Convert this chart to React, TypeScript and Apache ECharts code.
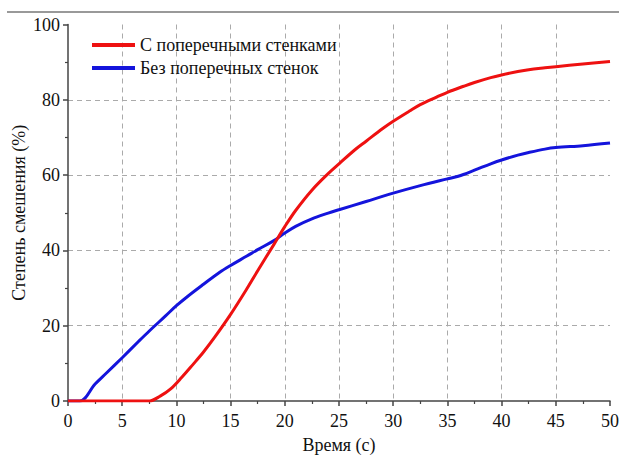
import React, { useEffect, useRef } from "react";
import * as echarts from "echarts";

const seriesNames = ["С поперечными стенками", "Без поперечных стенок"];
const xAxisName = "Время (с)";
const yAxisName = "Степень смешения (%)";
const xTicks = [0, 5, 10, 15, 20, 25, 30, 35, 40, 45, 50];
const yTicks = [0, 20, 40, 60, 80, 100];

const redTime = [0, 2.5, 5, 7.5, 8.5, 9.5, 10.5, 11.5, 12.5, 13.5, 15, 16.5, 17.5, 19, 20, 21, 22.5, 24, 25, 26.5, 27.5, 29, 30, 31.5, 32.5, 34, 35, 36.5, 37.5, 39, 40, 41.5, 42.5, 44, 45, 47.5, 50];
const redValues = [0, 0, 0, 0, 1.3, 3.3, 6.3, 9.6, 13, 16.8, 23, 29.8, 34.6, 41.6, 46.3, 50.6, 56, 60.4, 63, 66.8, 69, 72.3, 74.3, 77, 78.7, 80.7, 82, 83.6, 84.6, 85.9, 86.6, 87.5, 88, 88.5, 88.8, 89.5, 90.2];

const blueTime = [0, 1.1, 2.5, 3.5, 5, 6.5, 7.5, 9, 10, 11, 12.5, 14, 15, 16.5, 17.5, 19, 20, 21, 22.5, 24, 25, 27.5, 30, 32.5, 35, 36, 37.5, 39, 40, 41.5, 42.5, 44, 45, 47.5, 50];
const blueValues = [0, 0, 4.5, 7.3, 11.5, 15.8, 18.6, 22.6, 25.3, 27.7, 31, 34.2, 36, 38.5, 40.2, 42.6, 44.6, 46.4, 48.4, 49.9, 50.8, 53, 55.2, 57.2, 59, 59.7, 61.3, 63, 64, 65.3, 66, 66.9, 67.3, 67.8, 68.5];

const toPairs = (xs: number[], ys: number[]) => xs.map((x, i) => [x, ys[i]]);

export default function App() {
  const ref = useRef<HTMLDivElement>(null);
  useEffect(() => {
    if (!ref.current) return;
    const chart = echarts.init(ref.current, undefined, { renderer: "svg" });
    const font = "Liberation Serif";
    const topLine = {
      type: "line",
      shape: { x1: 7, y1: 12, x2: 619, y2: 12 },
      style: { stroke: "#777", lineWidth: 1.5 },
    };
    chart.setOption({
      animation: false,
      backgroundColor: "#ffffff",
      textStyle: { fontFamily: font },
      grid: { left: 68, right: 9, top: 24.5, bottom: 55, containLabel: false },
      legend: {
        orient: "vertical",
        left: 92,
        top: 36,
        itemWidth: 43,
        itemHeight: 4,
        itemGap: 5,
        icon: "rect",
        textStyle: { fontFamily: font, fontSize: 18, color: "#111", lineHeight: 18 },
        data: seriesNames,
        padding: 0,
      },
      graphic: [topLine],
      xAxis: {
        type: "value",
        min: 0,
        max: 50,
        interval: 5,
        axisLine: { show: true, onZero: false, lineStyle: { color: "#444", width: 1.5 } },
        axisTick: { show: true, length: 5, lineStyle: { color: "#444", width: 1.5 } },
        minorTick: { show: true, splitNumber: 2, length: 3, lineStyle: { color: "#444", width: 1.2 } },
        axisLabel: { show: false },
        splitLine: { show: true, showMinLine: false, showMaxLine: false, lineStyle: { color: "#aaa", type: [5, 4], width: 1 } },
      },
      yAxis: {
        type: "value",
        min: 0,
        max: 100,
        interval: 20,
        axisLine: { show: true, onZero: false, lineStyle: { color: "#444", width: 1.5 } },
        axisTick: { show: true, length: 5, lineStyle: { color: "#444", width: 1.5 } },
        minorTick: { show: true, splitNumber: 2, length: 3, lineStyle: { color: "#444", width: 1.2 } },
        axisLabel: { show: false },
        splitLine: { show: true, showMinLine: false, showMaxLine: false, lineStyle: { color: "#aaa", type: [5, 4], width: 1 } },
      },
      series: [
        {
          name: seriesNames[0],
          type: "line",
          data: toPairs(redTime, redValues),
          showSymbol: false,
          smooth: 0.35,
          lineStyle: { color: "#ee1111", width: 3 },
          itemStyle: { color: "#ee1111" },
          z: 3,
        },
        {
          name: seriesNames[1],
          type: "line",
          data: toPairs(blueTime, blueValues),
          showSymbol: false,
          smooth: 0.35,
          lineStyle: { color: "#1414dc", width: 3 },
          itemStyle: { color: "#1414dc" },
          z: 2,
        },
      ],
    });

    const textStyle = (text: string, align: string, verticalAlign: string) => ({
      text,
      fontFamily: font,
      fontSize: 18,
      fill: "#111",
      align,
      verticalAlign,
    });
    const labels: any[] = [topLine];
    xTicks.forEach((v) => {
      const p = chart.convertToPixel({ gridIndex: 0 }, [v, 0]) as number[];
      labels.push({ type: "text", x: p[0], y: p[1] + 11, style: textStyle(String(v), "center", "top") });
    });
    yTicks.forEach((v) => {
      const p = chart.convertToPixel({ gridIndex: 0 }, [0, v]) as number[];
      labels.push({ type: "text", x: p[0] - 8, y: p[1], style: textStyle(String(v), "right", "middle") });
    });
    const xMid = chart.convertToPixel({ gridIndex: 0 }, [25, 0]) as number[];
    labels.push({ type: "text", x: xMid[0], y: xMid[1] + 44, style: textStyle(xAxisName, "center", "middle") });
    const yMid = chart.convertToPixel({ gridIndex: 0 }, [0, 50]) as number[];
    labels.push({
      type: "text",
      x: yMid[0] - 49,
      y: yMid[1],
      rotation: Math.PI / 2,
      style: textStyle(yAxisName, "center", "middle"),
    });
    chart.setOption({ graphic: labels });

    return () => chart.dispose();
  }, []);
  return (
    <div
      ref={ref}
      style={{ position: "fixed", left: 0, top: 0, width: 619, height: 456 }}
    />
  );
}
